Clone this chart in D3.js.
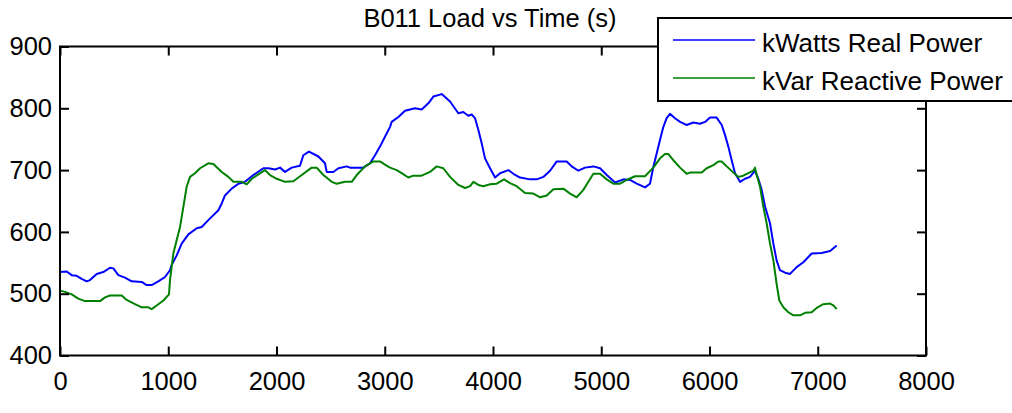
<!DOCTYPE html>
<html lang="en">
<head>
<meta charset="utf-8">
<title>B011 Load vs Time</title>
<script src="https://d3js.org/d3.v7.min.js"></script>
<style>
  body { margin: 0; background: #fff; }
  svg { font-family: "Liberation Sans", Arial, sans-serif; }
  .axis .domain { stroke: none; }
  .axis line { stroke: #000; stroke-width: 2; }
  .axis text { font-size: 25.5px; fill: #000; }
  .series { fill: none; stroke-width: 2; stroke-linejoin: round; }
</style>
</head>
<body>
<script>
// real power (kW)
var realTime = [0, 0, 62, 108, 154, 200, 246, 277, 339, 400, 462, 493, 539, 600, 662, 755, 800, 847, 908, 970,
  1016, 1032, 1078, 1124, 1186, 1263, 1309, 1370, 1463, 1494, 1524, 1586, 1648, 1709, 1786, 1879, 1925, 1987,
  2033, 2079, 2140, 2217, 2248, 2300, 2387, 2448, 2464, 2525, 2572, 2649, 2679, 2726, 2802, 2864, 2910, 2956,
  3002, 3049, 3064, 3126, 3187, 3280, 3341, 3403, 3449, 3526, 3603, 3680, 3726, 3772, 3803, 3834, 3865, 3896,
  3926, 3973, 4019, 4065, 4142, 4188, 4250, 4342, 4404, 4465, 4527, 4589, 4681, 4727, 4789, 4850, 4927, 4989,
  5051, 5128, 5205, 5266, 5328, 5405, 5450, 5481, 5512, 5543, 5574, 5604, 5635, 5681, 5728, 5789, 5851, 5912,
  5959, 6005, 6066, 6113, 6143, 6174, 6205, 6236, 6282, 6328, 6374, 6421, 6451, 6482, 6513, 6559, 6590, 6620,
  6651, 6698, 6744, 6805, 6867, 6944, 7036, 7114, 7175];
var realPower = [548, 535, 536, 530, 529, 524, 520, 522, 532, 535, 542, 541, 530, 526, 520, 519, 514, 514, 520, 527,
  538, 547, 562, 581, 596, 606, 608, 619, 635, 646, 659, 670, 678, 681, 692, 703, 703, 701,
  704, 697, 704, 707, 724, 730, 722, 711, 697, 697, 703, 706, 704, 704, 704, 711, 724, 738,
  754, 770, 778, 786, 796, 800, 798, 808, 819, 823, 811, 792, 794, 788, 790, 784, 765, 743,
  719, 703, 688, 695, 700, 694, 688, 685, 685, 689, 699, 714, 714, 706, 699, 704, 706, 703,
  692, 680, 685, 684, 678, 672, 678, 705, 727, 749, 770, 784, 791, 784, 778, 773, 777, 775,
  778, 785, 785, 773, 757, 738, 716, 695, 681, 686, 689, 699, 686, 668, 641, 614, 581, 554,
  538, 534, 532, 543, 551, 565, 566, 569, 578];

// reactive power (kVar)
var reactiveTime = [0, 46, 108, 169, 231, 370, 416, 462, 570, 616, 693, 755, 816, 847, 893, 955, 1007, 1016, 1047,
  1078, 1109, 1140, 1170, 1201, 1247, 1294, 1370, 1417, 1494, 1555, 1602, 1679, 1725, 1771, 1832, 1894, 1940,
  2002, 2079, 2156, 2233, 2325, 2371, 2433, 2510, 2556, 2633, 2695, 2741, 2818, 2895, 2956, 3002, 3049, 3110,
  3156, 3218, 3264, 3341, 3418, 3480, 3541, 3603, 3680, 3742, 3788, 3819, 3865, 3911, 3973, 4034, 4102, 4157,
  4219, 4296, 4373, 4435, 4496, 4558, 4650, 4712, 4773, 4835, 4881, 4927, 4989, 5051, 5112, 5174, 5235, 5312,
  5404, 5481, 5543, 5589, 5620, 5666, 5728, 5789, 5820, 5928, 5974, 6036, 6082, 6113, 6159, 6220, 6266, 6312,
  6359, 6405, 6420, 6436, 6467, 6497, 6528, 6559, 6590, 6620, 6645, 6682, 6728, 6775, 6836, 6882, 6944, 6990,
  7051, 7113, 7144, 7175];
var reactivePower = [505, 503, 499, 492, 488, 488, 494, 497, 497, 490, 483, 478, 478, 475, 481, 489, 499, 522, 565,
  587, 608, 641, 673, 689, 695, 703, 711, 710, 697, 689, 681, 681, 677, 686, 693, 700, 692,
  686, 681, 682, 692, 704, 704, 692, 681, 678, 681, 681, 692, 706, 714, 714, 709, 704, 700,
  695, 688, 691, 691, 697, 706, 703, 689, 676, 671, 674, 681, 676, 674, 677, 678, 685, 679,
  674, 663, 662, 656, 659, 669, 670, 662, 656, 668, 681, 694, 694, 685, 678, 678, 684, 690,
  690, 704, 719, 726, 726, 716, 704, 694, 696, 696, 703, 708, 714, 714, 706, 696, 689, 691,
  695, 699, 704, 692, 673, 641, 614, 581, 554, 516, 489, 478, 470, 465, 465, 469, 470, 477,
  483, 484, 481, 475];

var xTicks = [0, 1000, 2000, 3000, 4000, 5000, 6000, 7000, 8000];
var yTicks = [400, 500, 600, 700, 800, 900];
var titleText = 'B011 Load vs Time (s)';
var legendLabels = ['kWatts Real Power', 'kVar Reactive Power'];
var colors = ['#0000ff', '#008000'];

var w = 1012, h = 413;
var padL = 60, padR = 926, padT = 46.5, padB = 355.5;

var x = d3.scaleLinear().domain([0, 8000]).range([padL, padR]);
var y = d3.scaleLinear().domain([400, 900]).range([padB, padT]);

var svg = d3.select('body').append('svg')
    .attr('width', w)
    .attr('height', h);

var realData = realTime.map(function(t, i) { return [t, realPower[i]]; });
var reactiveData = reactiveTime.map(function(t, i) { return [t, reactivePower[i]]; });

var line = d3.line()
    .x(function(d) { return x(d[0]); })
    .y(function(d) { return y(d[1]); });

svg.append('path').datum(realData)
    .attr('class', 'series')
    .attr('stroke', colors[0])
    .attr('d', line);
svg.append('path').datum(reactiveData)
    .attr('class', 'series')
    .attr('stroke', colors[1])
    .attr('d', line);

// axes, ticks pointing inward
var xAxisG = svg.append('g').attr('class', 'axis')
    .attr('transform', 'translate(0,' + padB + ')')
    .call(d3.axisBottom(x).tickValues(xTicks).tickSize(-9).tickPadding(16).tickFormat(d3.format('d')));
svg.append('g').attr('class', 'axis')
    .attr('transform', 'translate(0,' + padT + ')')
    .call(d3.axisTop(x).tickValues(xTicks).tickSize(-9).tickFormat(''));
var yAxisG = svg.append('g').attr('class', 'axis')
    .attr('transform', 'translate(' + padL + ',0)')
    .call(d3.axisLeft(y).tickValues(yTicks).tickSize(-9).tickPadding(8).tickFormat(d3.format('d')));
svg.append('g').attr('class', 'axis')
    .attr('transform', 'translate(' + padR + ',0)')
    .call(d3.axisRight(y).tickValues(yTicks).tickSize(-9).tickFormat(''));

// inward ticks leave labels too close, shift them out
xAxisG.selectAll('text').attr('y', 16);
yAxisG.selectAll('text').attr('x', -8);

svg.append('rect')
    .attr('x', padL).attr('y', padT)
    .attr('width', padR - padL).attr('height', padB - padT)
    .attr('fill', 'none').attr('stroke', '#000').attr('stroke-width', 2);

svg.append('text')
    .attr('x', 490).attr('y', 27)
    .attr('text-anchor', 'middle')
    .style('font-size', '25.5px')
    .text(titleText);

// legend
var legend = svg.append('g');
legend.append('rect')
    .attr('x', 658).attr('y', 18)
    .attr('width', 370).attr('height', 83)
    .attr('fill', '#fff').attr('stroke', '#000').attr('stroke-width', 2);
legendLabels.forEach(function(label, i) {
  var ly = 40 + i * 38;
  legend.append('line')
    .attr('x1', 673).attr('x2', 755)
    .attr('y1', ly).attr('y2', ly)
    .attr('stroke', colors[i]).attr('stroke-width', 1.5);
  legend.append('text')
    .attr('x', 762).attr('y', ly + 12)
    .style('font-size', '26px')
    .text(label);
});
</script>
</body>
</html>
